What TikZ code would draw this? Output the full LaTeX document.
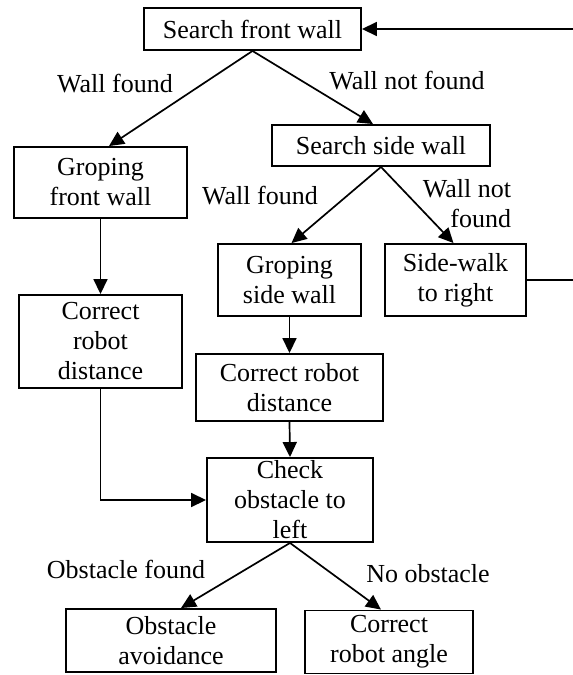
\documentclass[tikz,border=0pt]{standalone}
\usepackage{fontspec}
\setmainfont{Liberation Serif}
\usetikzlibrary{arrows.meta}
\tikzset{
  box/.style={draw, line width=1.9pt, rectangle, inner sep=0pt, align=center,
    font=\fontsize{26}{30}\selectfont},
  lbl/.style={inner sep=0pt, align=center, font=\fontsize{26}{30}\selectfont},
  arr/.style={line width=1.7pt, -{Triangle[length=15pt,width=14pt]}},
}
\begin{document}
\begin{tikzpicture}[x=1pt,y=-1pt]
\useasboundingbox (0,0) rectangle (573,675);
\clip (0,0) rectangle (573,675);
% boxes
\node[box, minimum width=217pt, minimum height=42pt] (sfw) at (252.5,29) {Search front wall};
\node[box, minimum width=173pt, minimum height=71pt] (gfw) at (100.5,182.5) {Groping\\front wall};
\node[box, minimum width=218pt, minimum height=41pt] (ssw) at (381,145.5) {Search side wall};
\node[box, minimum width=143pt, minimum height=72pt] (gsw) at (289.5,280) {Groping\\side wall};
\node[box, minimum width=141pt, minimum height=72pt] (swr) at (455.5,280) {Side-walk\\to right};
\node[box, minimum width=163pt, minimum height=93pt] (crdl) at (100.5,341.5) {Correct\\robot\\distance};
\node[box, minimum width=187pt, minimum height=67pt] (crdm) at (289.5,387.5) {Correct robot\\distance};
\node[box, minimum width=166pt, minimum height=84pt] (chk) at (290,500) {Check\\obstacle to\\left};
\node[box, minimum width=210pt, minimum height=63pt] (oa) at (171,640.5) {Obstacle\\avoidance};
\node[box, minimum width=168pt, minimum height=63pt] (cra) at (389,642) {Correct\\robot angle};
% labels
\node[lbl] (l1) at (115,84) {Wall found};
\node[lbl] (l2) at (407,81) {Wall not found};
\node[lbl] (l3) at (260,196) {Wall found};
\node[lbl, align=right] (l4) at (467,204) {Wall not\\found};
\node[lbl] (l5) at (126,569) {Obstacle found};
\node[lbl] (l6) at (428,574) {No obstacle};
% connectors
\draw[arr] (sfw.south) -- ([xshift=8.5pt]gfw.north);
\draw[arr] (sfw.south) -- ([xshift=-8pt]ssw.north);
\draw[arr] (ssw.south) -- ([xshift=2pt]gsw.north);
\draw[arr] (ssw.south) -- ([xshift=-2pt]swr.north);
\draw[arr] (gfw.south) -- (crdl.north);
\draw[arr] (gsw.south) -- (crdm.north);
\draw[arr] (crdm.south) -- (chk.north);
\draw[arr] (crdl.south) |- (chk.west);
\draw[arr] (chk.south) -- ([xshift=10pt]oa.north);
\draw[arr] (chk.south) -- ([xshift=-8pt]cra.north);
\draw[arr] (swr.east) -- ++(50,0) |- (sfw.east);
\end{tikzpicture}
\end{document}
